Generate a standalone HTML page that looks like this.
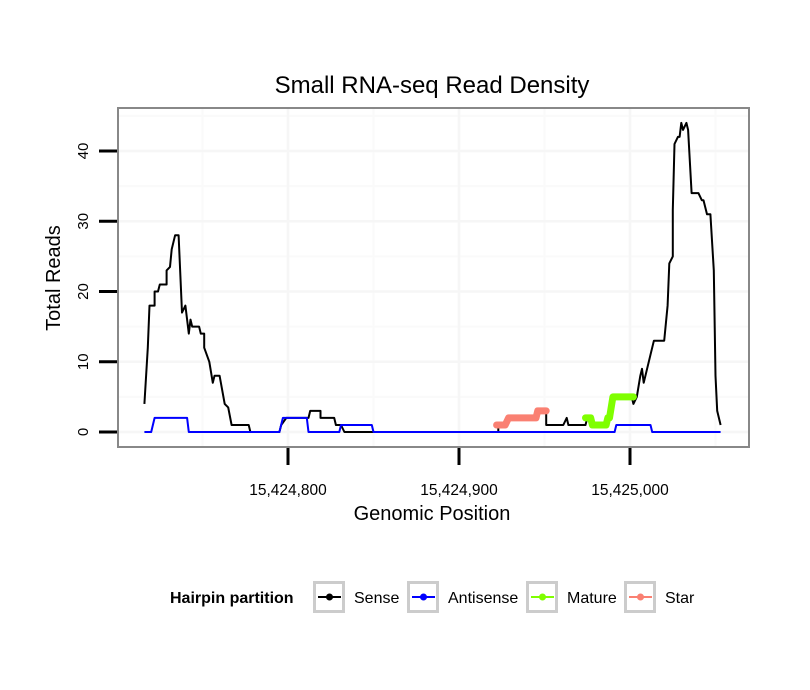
<!DOCTYPE html>
<html><head><meta charset="utf-8">
<style>
body{margin:0;background:#fff;}
svg{display:block;font-family:"Liberation Sans",Arial,sans-serif;}
</style></head>
<body>
<svg id="chart" width="810" height="690" viewBox="0 0 810 690">
<text x="432" y="93" text-anchor="middle" font-size="24" fill="#000">Small RNA-seq Read Density</text>
<g id="grid"></g>
<g id="series"></g>
<rect x="118" y="108" width="631" height="339" fill="none" stroke="#888" stroke-width="2"/>
<g id="axes"></g>
<text x="432" y="520" text-anchor="middle" font-size="20">Genomic Position</text>
<text transform="translate(60,278) rotate(-90)" text-anchor="middle" font-size="20">Total Reads</text>
<g>
<text x="170" y="603" font-size="16" font-weight="bold">Hairpin partition</text>
<g id="legend-items"></g>
</g>
</svg>
<script>
const xTicks=[15424800,15424900,15425000];
const xTickLabels=["15,424,800","15,424,900","15,425,000"];
const yTicks=[0,10,20,30,40];
const yTickLabels=["0","10","20","30","40"];
const sensePos=[15424716,15424718,15424719,15424722,15424722,15424724,15424725,15424729,15424729,15424731,15424732,15424734,15424736,15424738,15424740,15424742,15424743,15424744,15424748,15424749,15424751,15424751,15424754,15424756,15424757,15424760,15424763,15424765,15424767,15424777,15424778,15424795,15424796,15424799,15424812,15424813,15424819,15424819,15424827,15424828,15424831,15424833,15424923,15424923,15424928,15424928,15424946,15424947,15424951,15424951,15424961,15424963,15424964,15424974,15424975,15424977,15424979,15424986,15424987,15424988,15424990,15425001,15425002,15425004,15425006,15425007,15425008,15425009,15425012,15425014,15425020,15425021,15425022,15425023,15425025,15425025,15425026,15425028,15425029,15425030,15425031,15425033,15425034,15425036,15425040,15425042,15425043,15425045,15425047,15425049,15425050,15425051,15425053];
const senseVal=[4,12,18,18,20,20,21,21,23,23.5,26,28,28,17,18,14,16,15,15,14,14,12,10,7,8,8,4,3.5,1,1,0,0,1,2,2,3,3,2,2,1,1,0,0,1,1,2,2,3,3,1,1,2,1,1,2,2,1,1,2,2,5,5,4,5,8,9,7,8,11,13,13,15.5,18,24,25,31.6,41,42,42,44,43,44,43,34,34,33,33,31,31,23,8,3,1];
const antiPos=[15424716,15424720,15424722,15424741,15424742,15424795,15424797,15424811,15424812,15424830,15424831,15424849,15424850,15424991,15424992,15425012,15425013,15425053];
const antiVal=[0,0,2,2,0,0,2,2,0,0,1,1,0,0,1,1,0,0];
const maturePos=[15424974,15424977,15424978,15424986,15424987,15424988,15424990,15425002];
const matureVal=[2,2,1,1,2,2,5,5];
const starPos=[15424922,15424927,15424929,15424945,15424946,15424951];
const starVal=[1,1,2,2,3,3];
const legendNames=["Sense","Antisense","Mature","Star"];
const legendColors=["#000000","#0000ff","#7fff00","#fa8072"];

const NS="http://www.w3.org/2000/svg";
const X0=118,X1=749,Y0=108,Y1=447;
function xs(v){return 288+(v-15424800)*1.71;}
function ys(v){return 432-v*7.025;}
function mk(tag,attrs,parent){const e=document.createElementNS(NS,tag);for(const k in attrs)e.setAttribute(k,attrs[k]);parent.appendChild(e);return e;}
const grid=document.getElementById('grid'),axes=document.getElementById('axes'),series=document.getElementById('series');
mk('rect',{x:X0,y:Y0,width:X1-X0,height:Y1-Y0,fill:'#fff'},grid);
for(let v=15424750;v<=15425050;v+=100){const x=xs(v);if(x>X0&&x<X1){const l=mk('line',{x1:x,x2:x,y1:Y0,y2:Y1,stroke:'#fafafa','stroke-width':2},grid);

}}
for(let v=5;v<=45;v+=10){const y=ys(v);if(y>Y0){const l=mk('line',{x1:X0,x2:X1,y1:y,y2:y,stroke:'#fafafa','stroke-width':2},grid);

}}
xTicks.forEach((v,i)=>{const x=xs(v);
const g=mk('line',{x1:x,x2:x,y1:Y0,y2:Y1,stroke:'#f6f6f6','stroke-width':2.5},grid);


const t=mk('line',{x1:x,x2:x,y1:448,y2:465,stroke:'#000','stroke-width':3},axes);


const tx=mk('text',{x:x,y:495,'text-anchor':'middle','font-size':15.5},axes);tx.textContent=xTickLabels[i];

});
yTicks.forEach((v,i)=>{const y=ys(v);
const g=mk('line',{x1:X0,x2:X1,y1:y,y2:y,stroke:'#f6f6f6','stroke-width':2.5},grid);


const t=mk('line',{x1:99,x2:117,y1:y,y2:y,stroke:'#000','stroke-width':3},axes);


const tx=mk('text',{transform:`translate(88,${y}) rotate(-90)`,'text-anchor':'middle','font-size':15},axes);tx.textContent=yTickLabels[i];

});
function pts(p,v){return p.map((q,i)=>xs(q).toFixed(1)+','+ys(v[i]).toFixed(1)).join(' ');}
const s1=mk('polyline',{points:pts(sensePos,senseVal),fill:'none',stroke:'#000','stroke-width':2,'stroke-linejoin':'round'},series);


const s2=mk('polyline',{points:pts(antiPos,antiVal),fill:'none',stroke:'#0000ff','stroke-width':2,'stroke-linejoin':'round'},series);


const s3=mk('polyline',{points:pts(maturePos,matureVal),fill:'none',stroke:'#7fff00','stroke-width':7,'stroke-linejoin':'round','stroke-linecap':'round'},series);


const s4=mk('polyline',{points:pts(starPos,starVal),fill:'none',stroke:'#fa8072','stroke-width':7,'stroke-linejoin':'round','stroke-linecap':'round'},series);


const li=document.getElementById('legend-items');
const keyX=[313,407,526,624];
legendNames.forEach((n,i)=>{const kx=keyX[i];
const g=mk('g',{},li);


mk('rect',{x:kx+1.5,y:582.5,width:29,height:29,fill:'#fff',stroke:'#ccc','stroke-width':3},g);
mk('line',{x1:kx+5,x2:kx+28,y1:597,y2:597,stroke:legendColors[i],'stroke-width':2},g);
mk('circle',{cx:kx+16.5,cy:597,r:3.5,fill:legendColors[i]},g);
const t=mk('text',{x:kx+41,y:603,'font-size':16},g);t.textContent=n;});
</script>
</body></html>
